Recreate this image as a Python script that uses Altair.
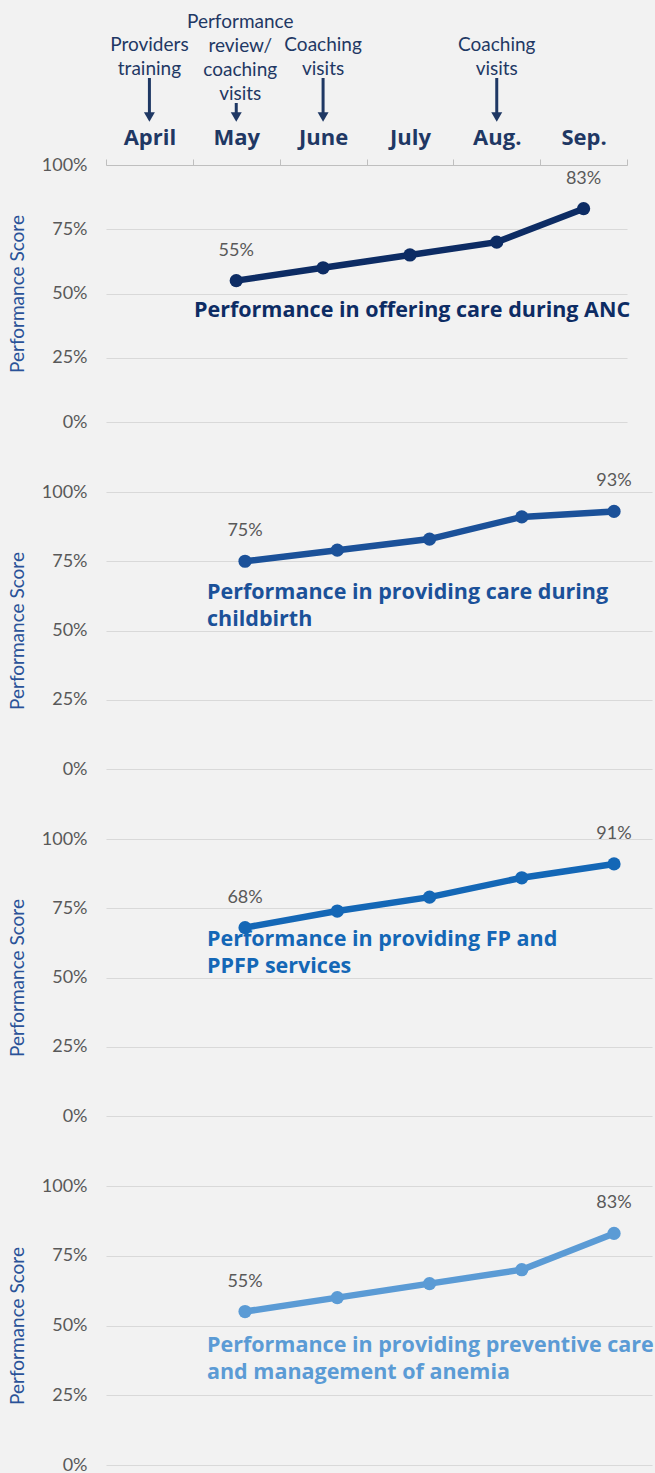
import altair as alt
import pandas as pd

# ---------------- data ----------------
months = ["April", "May", "June", "July", "Aug.", "Sep."]
score_months = ["May", "June", "July", "Aug.", "Sep."]
anc_scores = [55, 60, 65, 70, 83]
childbirth_scores = [75, 79, 83, 91, 93]
fp_scores = [68, 74, 79, 86, 91]
anemia_scores = [55, 60, 65, 70, 83]
y_ticks = [0, 25, 50, 75, 100]

activity_months = ["April", "May", "June", "Aug."]
activity_texts = [
    "Providers\ntraining",
    "Performance\nreview/\ncoaching\nvisits",
    "Coaching\nvisits",
    "Coaching\nvisits",
]

panel_titles = [
    "Performance in offering care during ANC",
    "Performance in providing care during\nchildbirth",
    "Performance in providing FP and\nPPFP services",
    "Performance in providing preventive care\nand management of anemia",
]
panel_colors = ["#0d2c64", "#1b5199", "#1467b6", "#5b9bd5"]

# ---------------- style ----------------
FONT = "Lato"
BOLD_FONT = "Open Sans"
NAVY = "#1f3864"
GRAY = "#595959"
TITLE_BLUE = "#2a5298"


def y_axis():
    return alt.Axis(
        values=y_ticks, labelExpr="datum.value + '%'", labelFontSize=18,
        labelColor=GRAY, labelPadding=19, ticks=False, domain=False,
        grid=True, gridColor="#d9d9d9", gridWidth=1,
        title="Performance Score", titleFontSize=19, titleColor=TITLE_BLUE,
        titleFontWeight="normal", titlePadding=14,
    )


def panel(scores, color, title, x_enc, width, height, tx, ty):
    df = pd.DataFrame({
        "month": score_months,
        "score": scores,
        "label": [f"{v}%" for v in scores],
    })
    base = alt.Chart(df)
    y = alt.Y("score:Q", scale=alt.Scale(domain=[0, 100]), axis=y_axis())
    line = base.mark_line(color=color, strokeWidth=6.5).encode(x=x_enc, y=y)
    pts = base.mark_point(filled=True, size=175, color=color, opacity=1).encode(
        x="month:N", y="score:Q")
    lbl = base.transform_filter(
        alt.FieldOneOfPredicate(field="month", oneOf=[score_months[0], score_months[-1]])
    ).mark_text(dy=-30, fontSize=18, color=GRAY, font=FONT).encode(
        x="month:N", y="score:Q", text="label:N")
    ttl = alt.Chart(pd.DataFrame({"t": [title]})).mark_text(
        align="left", baseline="top", fontSize=21.5, fontWeight="bold",
        color=color, lineBreak="\n", lineHeight=27, font=BOLD_FONT,
    ).encode(x=alt.value(tx), y=alt.value(ty), text="t:N")
    return [line, pts, lbl, ttl], width, height


# ---- panel 1 (with month axis on top and activity annotations) ----
x1 = alt.X(
    "month:N",
    scale=alt.Scale(type="band", domain=months, paddingInner=0, paddingOuter=0),
    axis=alt.Axis(
        orient="top", tickBand="extent", domainColor="#bfbfbf", tickColor="#bfbfbf",
        tickSize=6, labelFontSize=22, labelFontWeight="bold", labelColor=NAVY,
        labelPadding=10, labelAngle=0, grid=False, title=None, labelFont=BOLD_FONT,
    ),
)
layers1, w1, h1 = panel(anc_scores, panel_colors[0], panel_titles[0], x1, 521, 257, 88, 135)

act = pd.DataFrame({"month": activity_months, "text": activity_texts})
act_base = alt.Chart(act)
act_text_a = act_base.transform_filter(alt.datum.month != "May").mark_text(
    align="center", baseline="alphabetic", fontSize=19, color=NAVY,
    lineBreak="\n", lineHeight=24, font=FONT,
).encode(x="month:N", y=alt.value(-114), text="text:N")
act_text_b = act_base.transform_filter(alt.datum.month == "May").mark_text(
    align="center", baseline="alphabetic", fontSize=19, color=NAVY,
    lineBreak="\n", lineHeight=24, font=FONT, dx=4,
).encode(x="month:N", y=alt.value(-137), text="text:N")
arrow_a = act_base.transform_filter(alt.datum.month != "May").mark_rule(
    color=NAVY, strokeWidth=3).encode(x="month:N", y=alt.value(-87), y2=alt.value(-50))
arrow_b = act_base.transform_filter(alt.datum.month == "May").mark_rule(
    color=NAVY, strokeWidth=3).encode(x="month:N", y=alt.value(-62), y2=alt.value(-50))
heads = act_base.mark_point(
    shape="triangle-down", filled=True, size=120, color=NAVY, opacity=1
).encode(x="month:N", y=alt.value(-48))

p1 = alt.layer(*layers1, act_text_a, act_text_b, arrow_a, arrow_b, heads).properties(
    width=w1, height=h1)

# ---- panels 2-4 ----
def x_point():
    return alt.X(
        "month:N",
        scale=alt.Scale(type="point", domain=months, padding=0.4594, align=0.552),
        axis=None,
    )

l2, w2, h2 = panel(childbirth_scores, panel_colors[1], panel_titles[1], x_point(), 546, 277, 101, 90)
l3, w3, h3 = panel(fp_scores, panel_colors[2], panel_titles[2], x_point(), 546, 277, 101, 90)
l4, w4, h4 = panel(anemia_scores, panel_colors[3], panel_titles[3], x_point(), 546, 279, 101, 149)

p2 = alt.layer(*l2).properties(width=w2, height=h2)
p3 = alt.layer(*l3).properties(width=w3, height=h3)
p4 = alt.layer(*l4).properties(width=w4, height=h4)

chart = alt.vconcat(p1, p2, p3, p4, spacing=70, bounds="flush").properties(
    background="#f2f2f2",
    padding={"left": 8, "top": 13, "right": 1, "bottom": 6},
).configure(font=FONT).configure_view(strokeWidth=0)

chart.save("out.html", embed_options={"renderer": "svg", "actions": False})
